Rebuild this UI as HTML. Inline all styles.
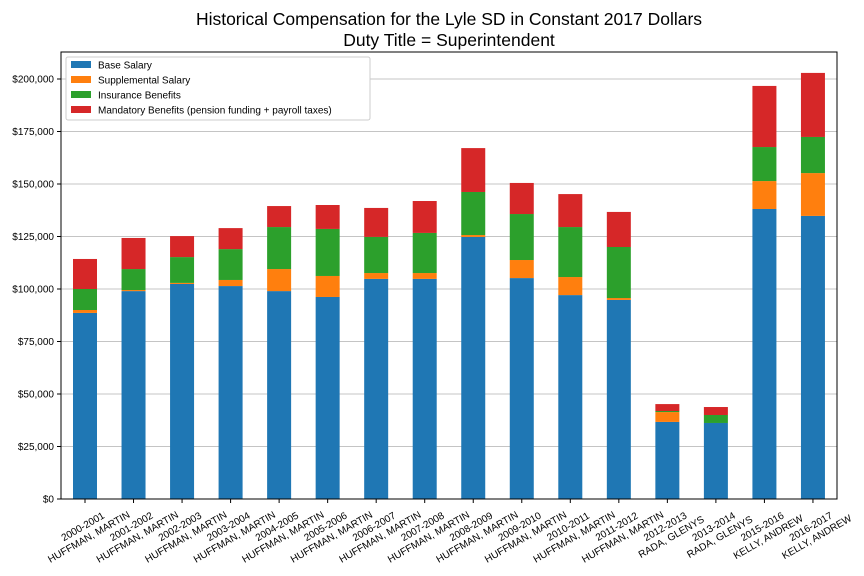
<!DOCTYPE html>
<html><head><meta charset="utf-8"><style>body{margin:0;background:#fff}svg{display:block;font-family:"Liberation Sans",sans-serif}</style></head>
<body>
<svg id="c" width="864" height="576"></svg>
<script>
const categories=["2000-2001|HUFFMAN, MARTIN","2001-2002|HUFFMAN, MARTIN","2002-2003|HUFFMAN, MARTIN","2003-2004|HUFFMAN, MARTIN","2004-2005|HUFFMAN, MARTIN","2005-2006|HUFFMAN, MARTIN","2006-2007|HUFFMAN, MARTIN","2007-2008|HUFFMAN, MARTIN","2008-2009|HUFFMAN, MARTIN","2009-2010|HUFFMAN, MARTIN","2010-2011|HUFFMAN, MARTIN","2011-2012|HUFFMAN, MARTIN","2012-2013|RADA, GLENYS","2013-2014|RADA, GLENYS","2015-2016|KELLY, ANDREW","2016-2017|KELLY, ANDREW"];
const baseSalary=[88600,99000,102400,101400,99000,96200,104800,104800,124800,105200,97100,94800,36700,36200,138100,134800];
const supplemental=[1400,500,500,2900,10500,10000,2800,2800,900,8600,8600,900,4700,0,13300,20400];
const insurance=[10000,10000,12300,14700,20000,22400,17200,19100,20500,21900,23800,24300,500,3800,16200,17200];
const mandatory=[14300,14800,10000,10000,10000,11400,13800,15200,20900,14800,15700,16700,3300,3800,29100,30500];
const yTicks=[0,25000,50000,75000,100000,125000,150000,175000,200000];
const seriesNames=["Base Salary","Supplemental Salary","Insurance Benefits","Mandatory Benefits (pension funding + payroll taxes)"];
const colors=["#1f77b4","#ff7f0e","#2ca02c","#d62728"];
const NS="http://www.w3.org/2000/svg",svg=document.getElementById("c");
const L=61,R=837,T=52,B=499;
const y=v=>B-(v/200000)*420;
const x=i=>L+24+i*48.53;
function el(t,a,p){const e=document.createElementNS(NS,t);for(const k in a)e.setAttribute(k,a[k]);(p||svg).appendChild(e);return e;}
yTicks.forEach(v=>{
 const g=el("line",{x1:L,x2:R,y1:y(v),y2:y(v),stroke:"#b0b0b0","stroke-width":0.8});
 
 
 el("line",{x1:L-4,x2:L,y1:y(v),y2:y(v),stroke:"#000"});
 const t=el("text",{x:L-7,y:y(v)+3.5,"text-anchor":"end","font-size":10});
 t.textContent="$"+v.toLocaleString("en-US");
 
 
});
const series=[baseSalary,supplemental,insurance,mandatory];
categories.forEach((c,i)=>{
 let acc=0;
 series.forEach((s,k)=>{
  const r=el("rect",{x:x(i)-12,width:24,y:y(acc+s[i]),height:y(acc)-y(acc+s[i]),fill:colors[k]});
  
  
  acc+=s[i];
 });
 el("line",{x1:x(i),x2:x(i),y1:B,y2:B+4,stroke:"#000"});
 const [yr,nm]=c.split("|");
 const t=el("text",{"font-size":10,"text-anchor":"middle",transform:`translate(${x(i)+1},${B+33}) rotate(-30)`});
 
 
 const a=el("tspan",{x:0,y:-3},t);a.textContent=yr;
 const b=el("tspan",{x:0,y:9},t);b.textContent=nm;
});
const fr=el("rect",{x:L,y:T,width:R-L,height:B-T,fill:"none",stroke:"#000","stroke-width":1});


const lg=el("g",{});


el("rect",{x:66,y:57,width:304,height:63,fill:"#fff",stroke:"#ccc",rx:2},lg);
seriesNames.forEach((n,k)=>{
 const yy=65+k*15;
 el("rect",{x:71,y:yy-4,width:20,height:7,fill:colors[k]},lg);
 const t=el("text",{x:98,y:yy+3.5,"font-size":10},lg);t.textContent=n;
 
 
});
const t1=el("text",{x:449,y:25,"text-anchor":"middle","font-size":17.5});t1.textContent="Historical Compensation for the Lyle SD in Constant 2017 Dollars";


const t2=el("text",{x:449,y:46,"text-anchor":"middle","font-size":17.5});t2.textContent="Duty Title = Superintendent";


</script>
</body></html>
